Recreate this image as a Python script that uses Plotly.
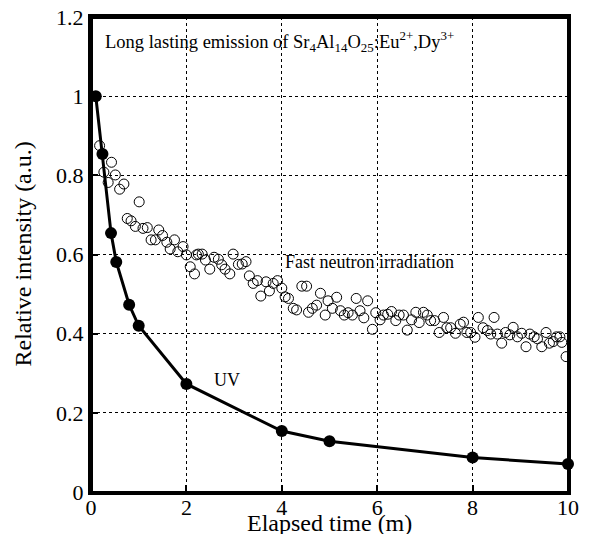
import plotly.graph_objects as go

# UV excitation (filled circles, joined by a line)
uv_time = [0.1, 0.24, 0.42, 0.53, 0.8, 1.0, 2.0, 4.0, 5.0, 8.0, 10.0]
uv_int = [1.0, 0.854, 0.654, 0.581, 0.473, 0.42, 0.273, 0.154, 0.128, 0.087, 0.071]

# fast neutron irradiation (open circles)
fn_time = [0.18, 0.27, 0.36, 0.43, 0.51, 0.60, 0.69, 0.76, 0.84, 0.93, 1.01,
           1.09, 1.18, 1.26, 1.35, 1.42, 1.50, 1.59, 1.66, 1.75, 1.82, 1.93,
           2.00, 2.08, 2.17, 2.21, 2.25, 2.33, 2.40, 2.49, 2.58, 2.67, 2.74,
           2.81, 2.91, 2.98, 3.09, 3.17, 3.25, 3.32, 3.40, 3.49, 3.56, 3.67,
           3.74, 3.82, 3.91, 4.00, 4.07, 4.14, 4.24, 4.31, 4.42, 4.52, 4.56,
           4.64, 4.73, 4.81, 4.91, 4.97, 5.06, 5.15, 5.23, 5.31, 5.39, 5.48,
           5.56, 5.64, 5.72, 5.80, 5.90, 5.97, 6.06, 6.13, 6.22, 6.30, 6.39,
           6.46, 6.55, 6.63, 6.72, 6.81, 6.88, 6.97, 7.05, 7.12, 7.20, 7.30,
           7.39, 7.46, 7.54, 7.64, 7.74, 7.81, 7.88, 7.96, 8.05, 8.12, 8.22,
           8.31, 8.38, 8.45, 8.52, 8.61, 8.69, 8.78, 8.85, 8.94, 9.03, 9.12,
           9.20, 9.29, 9.36, 9.45, 9.54, 9.61, 9.69, 9.76, 9.83, 9.87, 9.96]
fn_int = [0.875, 0.808, 0.782, 0.833, 0.801, 0.765, 0.778, 0.691, 0.685, 0.671, 0.733,
          0.666, 0.668, 0.637, 0.637, 0.662, 0.648, 0.631, 0.614, 0.637, 0.607, 0.620,
          0.599, 0.569, 0.551, 0.599, 0.601, 0.601, 0.586, 0.563, 0.593, 0.588, 0.574,
          0.563, 0.551, 0.601, 0.575, 0.576, 0.582, 0.546, 0.527, 0.534, 0.495, 0.531,
          0.508, 0.527, 0.534, 0.515, 0.493, 0.489, 0.464, 0.460, 0.520, 0.520, 0.454,
          0.464, 0.472, 0.502, 0.447, 0.483, 0.464, 0.492, 0.458, 0.447, 0.453, 0.447,
          0.489, 0.458, 0.440, 0.483, 0.411, 0.453, 0.435, 0.447, 0.449, 0.456, 0.433,
          0.447, 0.447, 0.409, 0.435, 0.454, 0.428, 0.454, 0.447, 0.433, 0.433, 0.403,
          0.441, 0.415, 0.415, 0.401, 0.424, 0.429, 0.403, 0.403, 0.391, 0.441, 0.415,
          0.408, 0.399, 0.441, 0.399, 0.376, 0.403, 0.397, 0.416, 0.392, 0.401, 0.367,
          0.399, 0.392, 0.387, 0.367, 0.403, 0.376, 0.380, 0.392, 0.392, 0.378, 0.342]

x_range = [0, 10]
y_range = [0, 1.2]
serif = "Liberation Serif"

W, H = 574, 526
M = dict(l=83, r=14, t=9, b=42)

fig = go.Figure()
fig.add_trace(go.Scatter(x=fn_time, y=fn_int, mode='markers', name='Fast neutron',
                         marker=dict(symbol='circle-open', size=10, color='black',
                                     line=dict(width=1, color='black'))))
fig.add_trace(go.Scatter(x=uv_time, y=uv_int, mode='lines+markers', name='UV',
                         line=dict(color='black', width=3), cliponaxis=False,
                         marker=dict(size=12, color='black')))

# box round the plot area (annotation border), since only the main axis lines render
fig.add_annotation(xref='paper', yref='paper', x=0.5, y=0.5, xanchor='center', yanchor='middle',
                   showarrow=False, text=' ', width=W - M['l'] - M['r'] - 3,
                   height=H - M['t'] - M['b'] - 3, borderpad=0,
                   bordercolor='black', borderwidth=3)

fig.add_annotation(x=0.25, y=1.139, xanchor='left', yanchor='middle', showarrow=False,
                   text="Long lasting emission of Sr<sub>4</sub>Al<sub>14</sub>O<sub>25</sub>:Eu<sup>2+</sup>,Dy<sup>3+</sup>",
                   font=dict(family=serif, size=18.5, color='black'))
fig.add_annotation(x=4.03, y=0.581, xanchor='left', yanchor='middle', showarrow=False,
                   text="Fast neutron irradiation",
                   font=dict(family=serif, size=18, color='black'))
fig.add_annotation(x=2.85, y=0.283, xanchor='center', yanchor='middle', showarrow=False,
                   text="UV", font=dict(family=serif, size=18, color='black'))

# axis titles
fig.add_annotation(xref='paper', yref='paper', x=0.5, y=0, yshift=-31,
                   xanchor='center', yanchor='middle', showarrow=False,
                   text='Elapsed time (m)', font=dict(family=serif, size=24, color='black'))
fig.add_annotation(xref='paper', yref='paper', x=0, y=0.5, xshift=-69, textangle=-90,
                   xanchor='center', yanchor='middle', showarrow=False,
                   text='Relative intensity (a.u.)', font=dict(family=serif, size=24, color='black'))

tickfont = dict(family=serif, size=22, color='black')
tk = dict(ticks='inside', ticklen=7, tickwidth=2, tickcolor='black')

fig.update_layout(
    width=W, height=H,
    margin=M,
    plot_bgcolor='white', paper_bgcolor='white',
    showlegend=False,
    font=dict(family=serif, color='black'),
    xaxis=dict(range=x_range, dtick=2, tick0=0, automargin=False,
               showline=True, linewidth=3, linecolor='black', mirror=True,
               showgrid=True, gridcolor='black', gridwidth=1, griddash='dot',
               zeroline=False, tickfont=tickfont, ticklabelstandoff=-6,
               ticklabeloverflow='allow', **tk),
    yaxis=dict(range=y_range, dtick=0.2, tick0=0, automargin=False,
               showline=True, linewidth=3, linecolor='black', mirror=True,
               showgrid=True, gridcolor='black', gridwidth=1, griddash='dot',
               zeroline=False, tickfont=tickfont, ticklabeloverflow='allow', **tk),
)

fig.write_html("out.html")
